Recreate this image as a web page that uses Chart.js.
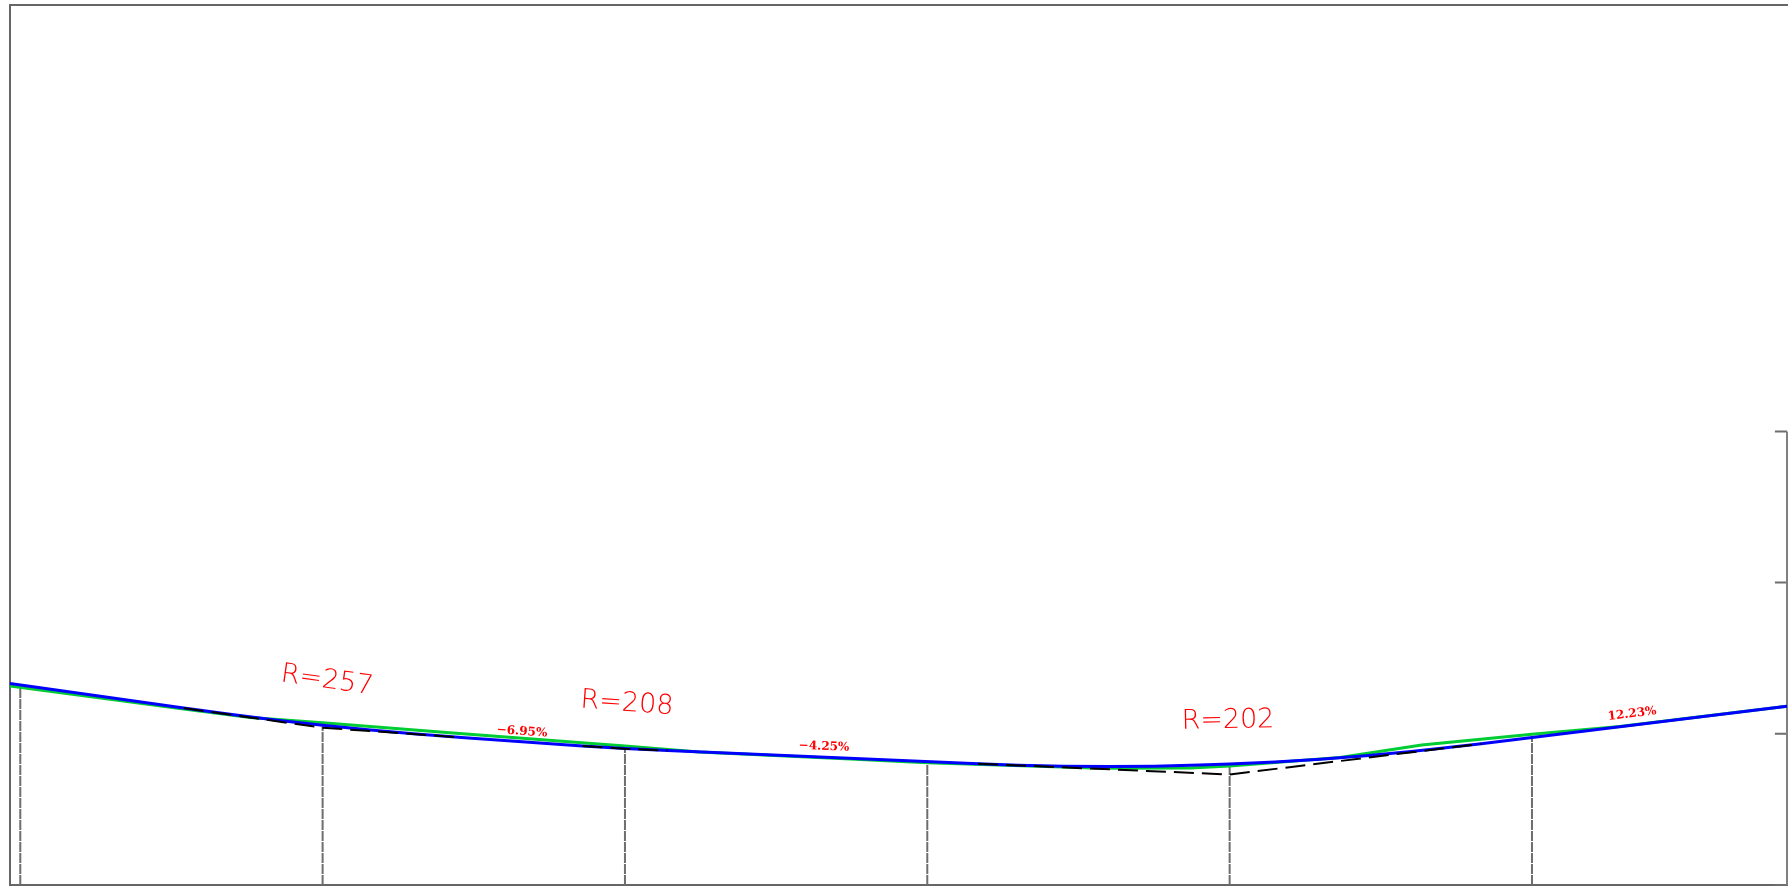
<!DOCTYPE html>
<html>
<head>
<meta charset="utf-8">
<title>Perfil</title>
<style>
html, body { margin: 0; padding: 0; background: #fff; overflow: hidden; }
canvas { display: block; }
</style>
<script src="https://cdn.jsdelivr.net/npm/chart.js@4"></script>
</head>
<body>
<canvas id="myChart" width="1789" height="887"></canvas>
<script>
// axis limits (metres)
const xMin = -0.68, xMax = 116.87, yMin = 0, yMax = 58.2;

// stations and the height of each vertical
const stationX = [0, 20, 40, 60, 80, 100];
const stationTop = [13.05, 10.55, 9.03, 8.05, 7.9, 9.87];

// right hand ruler
const rulerTicks = [0, 10, 20, 30];
const rulerX = [116.87, 116.87];
const rulerY = [0, 30];
const tickStart = 116.07;

// design curve (blue)
const designX = [-0.68, 10.81, 14, 17, 20, 23, 26, 29.19, 37.19, 40, 42.81, 63.36, 66, 69, 72, 75, 78, 80, 83, 86, 89, 92, 94, 96.64, 116.87];
const designY = [13.32, 11.7, 11.27, 10.9, 10.56, 10.27, 10.0, 9.76, 9.2, 9.03, 8.89, 8.02, 7.92, 7.86, 7.84, 7.86, 7.93, 8.0, 8.14, 8.32, 8.55, 8.83, 9.04, 9.34, 11.82];

// ground line (green)
const groundX = [-0.68, 10.56, 15.2, 20, 28.4, 40, 44.9, 54.9, 60, 71.5, 77.4, 80, 87.3, 92.7, 100, 105.8, 116.87];
const groundY = [13.16, 11.68, 11.07, 10.73, 10.07, 9.19, 8.8, 8.34, 8.08, 7.72, 7.74, 7.87, 8.44, 9.26, 9.97, 10.48, 11.82];

// grade line (black dashes), only shown along the curves
const gradeX = [10.81, 20, 29.19, null, 37.19, 40, 42.81, null, 63.36, 80, 96.64];
const gradeY = [11.7, 10.4, 9.76, null, 9.2, 9.01, 8.89, null, 8.02, 7.31, 9.34];

// red texts
const labelText = ['R=257', 'R=208', 'R=202', '−6.95%', '−4.25%', '12.23%'];
const labelX = [20.29, 40.13, 79.89, 33.19, 53.17, 106.62];
const labelY = [13.5, 11.98, 10.85, 10.14, 9.15, 11.31];
const labelAngle = [8, 4, -1, 4, 2.4, -7];

const zip = (xs, ys) => xs.map((x, i) => ({ x: x, y: ys[i] }));

function line(data, color, width, dash) {
    return {
        data: data,
        borderColor: color,
        borderWidth: width,
        borderDash: dash || [],
        pointRadius: 0,
        tension: 0,
        spanGaps: false,
        fill: false,
        clip: false
    };
}

// verticals and ruler ticks as one broken line each
const stationLine = [];
stationX.forEach((x, i) => { stationLine.push({ x: x, y: 0 }, { x: x, y: stationTop[i] }, { x: x, y: null }); });
const tickLine = [];
rulerTicks.forEach(t => { tickLine.push({ x: tickStart, y: t }, { x: xMax, y: t }, { x: xMax, y: null }); });

const labelPlugin = {
    id: 'redLabels',
    afterDatasetsDraw(chart) {
        const { ctx, scales } = chart;
        labelText.forEach((txt, i) => {
            ctx.save();
            ctx.translate(scales.x.getPixelForValue(labelX[i]), scales.y.getPixelForValue(labelY[i]));
            ctx.rotate(labelAngle[i] * Math.PI / 180);
            ctx.fillStyle = '#ff0000';
            ctx.textAlign = 'center';
            ctx.textBaseline = 'middle';
            ctx.font = i < 3 ? '200 27px "DejaVu Sans"' : 'bold 12px "DejaVu Serif"';
            ctx.fillText(txt, 0, 0);
            ctx.restore();
        });
    }
};

const hidden = { display: false };
const frameBorder = { display: true, color: '#666666', width: 2 };

// the first dataset is painted last, so black goes first and green under blue
new Chart(document.getElementById('myChart').getContext('2d'), {
    type: 'line',
    data: {
        datasets: [
            line(zip(gradeX, gradeY), '#000000', 2, [20, 8]),
            line(zip(designX, designY), '#0000ff', 3),
            line(zip(groundX, groundY), '#00cc33', 3),
            line(stationLine, '#6e6e6e', 2, [10, 1]),
            line(zip(rulerX, rulerY), '#808080', 2),
            line(tickLine, '#6e6e6e', 2)
        ]
    },
    options: {
        responsive: false,
        animation: false,
        layout: { padding: { left: 10, right: 2, top: 5, bottom: 2 } },
        plugins: { legend: hidden, title: hidden, tooltip: { enabled: false } },
        scales: {
            x: {
                type: 'linear', position: 'bottom', min: xMin, max: xMax,
                grid: { display: false, drawTicks: false },
                ticks: { display: false },
                border: frameBorder
            },
            xTop: {
                type: 'linear', position: 'top', min: xMin, max: xMax,
                grid: { display: false, drawTicks: false },
                ticks: { display: false },
                border: frameBorder
            },
            y: {
                type: 'linear', position: 'left', min: yMin, max: yMax,
                grid: { display: false, drawTicks: false },
                ticks: { display: false },
                border: frameBorder
            }
        }
    },
    plugins: [labelPlugin]
});
</script>
</body>
</html>
